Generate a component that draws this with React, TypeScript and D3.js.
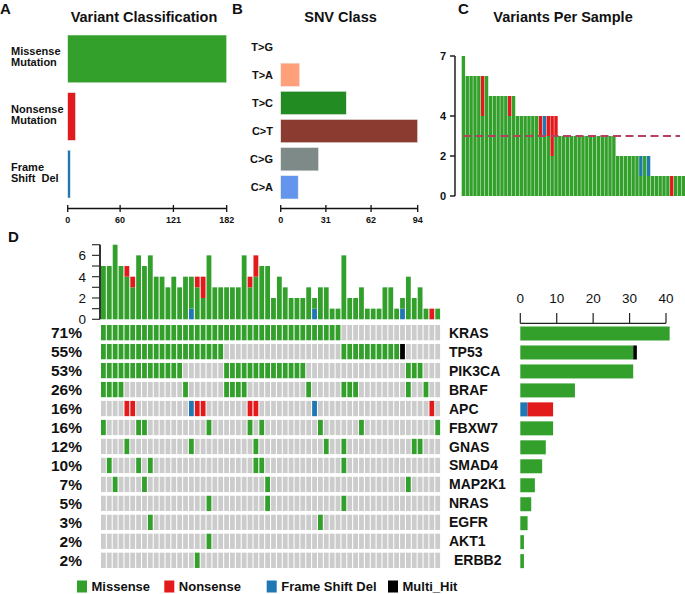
import React from "react";
import * as d3 from "d3";

const FONT = "'Liberation Sans', Arial, Helvetica, sans-serif";

// ---------- Panel A ----------
const variantClasses = ["Missense Mutation", "Nonsense Mutation", "Frame Shift Del"];
const variantLabelLines = [["Missense", "Mutation"], ["Nonsense", "Mutation"], ["Frame", "Shift  Del"]];
const variantCounts = [182, 9, 3];
const variantTicks = [0, 60, 121, 182];

// ---------- Panel B ----------
const snvClasses = ["T>G", "T>A", "T>C", "C>T", "C>G", "C>A"];
const snvCounts = [0, 13, 45, 94, 26, 12];
const snvColors = ["#FFFF99", "#FFA07A", "#228B22", "#8B3B2F", "#7E8A87", "#6495ED"];
const snvTicks = [0, 31, 62, 94];

// ---------- Panel C (samples sorted by variant count) ----------
const cMissense = [
  7, 6, 6, 6, 6, 4, 6, 5, 5, 5,
  5, 5, 4, 5, 4, 4, 4, 4, 4, 4,
  3, 3, 3, 2, 3, 3, 3, 3, 3, 3,
  3, 3, 3, 3, 3, 3, 3, 3, 3, 3,
  2, 2, 2, 2, 2, 2, 1, 2, 1, 1,
  1, 1, 1, 1, 0, 1, 1, 1,
];
const cNonsense = [
  0, 0, 0, 0, 0, 2, 0, 0, 0, 0,
  0, 0, 1, 0, 0, 0, 0, 0, 0, 0,
  1, 0, 1, 2, 1, 0, 0, 0, 0, 0,
  0, 0, 0, 0, 0, 0, 0, 0, 0, 0,
  0, 0, 0, 0, 0, 0, 0, 0, 0, 0,
  0, 0, 0, 0, 1, 0, 0, 0,
];
const cFrameShift = [
  0, 0, 0, 0, 0, 0, 0, 0, 0, 0,
  0, 0, 0, 0, 0, 0, 0, 0, 0, 0,
  0, 1, 0, 0, 0, 0, 0, 0, 0, 0,
  0, 0, 0, 0, 0, 0, 0, 0, 0, 0,
  0, 0, 0, 0, 0, 0, 1, 0, 1, 0,
  0, 0, 0, 0, 0, 0, 0, 0,
];
const cTicks = [0, 2, 4, 7];
const cMedian = 3;

// ---------- Panel D ----------
const genes = ["KRAS", "TP53", "PIK3CA", "BRAF", "APC", "FBXW7", "GNAS", "SMAD4", "MAP2K1", "NRAS", "EGFR", "AKT1", "ERBB2"];
const genePercents = ["71%", "55%", "53%", "26%", "16%", "16%", "12%", "10%", "7%", "5%", "3%", "2%", "2%"];
// M = Missense, N = Nonsense, F = Frame Shift Del, H = Multi_Hit, . = none
const geneRows = [
  ["MMMMMMMMMM", "MMMMMMMMMM", "MMMMMMMMMM", "MMMMMMMMMM", "M.........", "........"],
  ["MMMMMMMMMM", "MMMMMMMMMM", "M.........", "..........", ".MMMMMMMMM", "MH......"],
  ["MMMMMMMMMM", "MMMM......", ".MMMMMMMMM", "MMMMM.....", "..........", "..MMM..."],
  ["MMMM......", "....M.....", ".MMMM.....", ".....M....", ".MMM......", "..M..M.."],
  ["....NN....", ".....FNN..", ".....NN...", "......F...", "..........", "......N."],
  ["M.....MM..", "........M.", ".....M.M..", ".......M..", "....M.....", ".......M"],
  ["....M.....", ".....M....", "......M...", "........M.", ".M........", "...MM..."],
  [".M....M.M.", "..........", "......MM..", "..........", ".M........", "........"],
  ["..M....M..", "..........", "........M.", "..........", "..........", "..M....."],
  ["..........", "........M.", "........M.", "..........", ".M........", "........"],
  ["........M.", "..........", "..........", ".......M..", "..........", "........"],
  ["..........", "........M.", "..........", "..........", "..........", "........"],
  ["..........", "......M...", "..........", "..........", "..........", "........"],
].map((chunks) => chunks.join(""));

const tmbMissense = [
  5, 5, 7, 5, 4, 3, 6, 5, 6, 4,
  4, 3, 4, 3, 4, 3, 3, 2, 6, 3,
  3, 3, 3, 3, 6, 3, 4, 5, 5, 2,
  4, 3, 2, 2, 2, 3, 1, 3, 3, 1,
  1, 6, 2, 2, 3, 1, 1, 1, 3, 3,
  1, 1, 4, 2, 3, 1, 0, 1,
];
const tmbNonsense = [
  0, 0, 0, 0, 1, 1, 0, 0, 0, 0,
  0, 0, 0, 0, 0, 0, 1, 2, 0, 0,
  0, 0, 0, 0, 0, 1, 2, 0, 0, 0,
  0, 0, 0, 0, 0, 0, 0, 0, 0, 0,
  0, 0, 0, 0, 0, 0, 0, 0, 0, 0,
  0, 0, 0, 0, 0, 0, 1, 0,
];
const tmbFrameShift = [
  0, 0, 0, 0, 0, 0, 0, 0, 0, 0,
  0, 0, 0, 0, 0, 1, 0, 0, 0, 0,
  0, 0, 0, 0, 0, 0, 0, 0, 0, 0,
  0, 0, 0, 0, 0, 0, 1, 0, 0, 0,
  0, 0, 0, 0, 0, 0, 0, 0, 0, 0,
  0, 1, 0, 0, 0, 0, 0, 0,
];
const tmbTicks = [0, 1, 2, 3, 4, 5, 6, 7];
const tmbLabels = [0, 2, 4, 6];
const geneTicks = [0, 10, 20, 30, 40];
const legendItems = ["Missense", "Nonsense", "Frame Shift Del", "Multi_Hit"];

const COLORS: Record<string, string> = {
  M: "#33A02C",
  N: "#E31A1C",
  F: "#1F78B4",
  H: "#000000",
};
const GRAY = "#CCCCCC";
const legendCodes = ["M", "N", "F", "H"];

export default function App() {
  // ----- Panel A scales -----
  const ax = d3.scaleLinear().domain([0, 182]).range([67.7, 226.7]);
  const ay = d3.scaleBand<string>().domain(variantClasses).range([35, 198]).paddingInner(0.17);
  const aColors = [COLORS.M, COLORS.N, COLORS.F];

  // ----- Panel B scales -----
  const bx = d3.scaleLinear().domain([0, 94]).range([280.7, 417.7]);
  const by = d3.scaleBand<string>().domain(snvClasses).range([35, 199]).paddingInner(0.17);

  // ----- Panel C scales -----
  const cIdx = d3.range(cMissense.length);
  const cx = d3.scaleBand<number>().domain(cIdx).range([461.7, 685]).paddingInner(0.12);
  const cy = d3.scaleLinear().domain([0, 7]).range([196, 56]);

  // ----- Panel D scales -----
  const nS = tmbMissense.length;
  const sIdx = d3.range(nS);
  const dx = d3.scaleBand<number>().domain(sIdx).range([101, 440.1]).paddingInner(0.18);
  const dy = d3.scaleLinear().domain([0, 7]).range([319.3, 244.7]);
  const rowY = d3.scaleLinear().domain([0, 1]).range([325, 343.97]);
  const rowH = 15.3;
  const gx = d3.scaleLinear().domain([0, 40]).range([520.3, 666]);

  const stackOrderGene = ["F", "M", "N", "H"];

  return (
    <svg
      width={685}
      height={594}
      style={{ position: "absolute", left: 0, top: 0, background: "#fff", fontFamily: FONT }}
    >
      {/* Panel letters and titles */}
      <g fontWeight="bold" fill="#111">
        <text x={0} y={14} fontSize={15}>A</text>
        <text x={232} y={14} fontSize={15}>B</text>
        <text x={458} y={14} fontSize={15}>C</text>
        <text x={8} y={242} fontSize={15}>D</text>
        <text x={144} y={21.5} fontSize={14.5} textAnchor="middle">Variant Classification</text>
        <text x={340.5} y={21.5} fontSize={14.5} textAnchor="middle">SNV Class</text>
        <text x={563} y={21.5} fontSize={14.5} textAnchor="middle">Variants Per Sample</text>
      </g>

      {/* Panel A */}
      <g>
        {variantClasses.map((c, i) => (
          <rect
            key={c}
            x={ax(0)}
            y={ay(c)!}
            width={ax(variantCounts[i]) - ax(0)}
            height={ay.bandwidth()}
            fill={aColors[i]}
            stroke="#e8f0e8"
            strokeWidth={0.6}
          />
        ))}
        {variantClasses.map((c, i) => {
          const cyy = ay(c)! + ay.bandwidth() / 2;
          return (
            <text key={c} x={11} fontSize={11} fontWeight="bold" fill="#111" style={{ whiteSpace: "pre" }}>
              <tspan x={11} y={cyy - 3.5}>{variantLabelLines[i][0]}</tspan>
              <tspan x={11} y={cyy + 7.5}>{variantLabelLines[i][1]}</tspan>
            </text>
          );
        })}
        <line x1={ax(0)} x2={ax(182)} y1={208.5} y2={208.5} stroke="#111" strokeWidth={1.3} />
        {variantTicks.map((t) => (
          <g key={t}>
            <line x1={ax(t)} x2={ax(t)} y1={205} y2={212} stroke="#111" strokeWidth={1.3} />
            <text x={ax(t)} y={223} fontSize={9} fontWeight="bold" textAnchor="middle" fill="#111">{t}</text>
          </g>
        ))}
      </g>

      {/* Panel B */}
      <g>
        {snvClasses.map((c, i) => (
          <g key={c}>
            {snvCounts[i] > 0 && (
              <rect
                x={bx(0)}
                y={by(c)!}
                width={bx(snvCounts[i]) - bx(0)}
                height={by.bandwidth()}
                fill={snvColors[i]}
                stroke="#eeeeee"
                strokeWidth={0.6}
              />
            )}
            <text
              x={273}
              y={by(c)! + by.bandwidth() / 2}
              dy="0.36em"
              fontSize={11}
              fontWeight="bold"
              textAnchor="end"
              fill="#111"
            >
              {c}
            </text>
          </g>
        ))}
        <line x1={bx(0)} x2={bx(94)} y1={208.5} y2={208.5} stroke="#111" strokeWidth={1.3} />
        {snvTicks.map((t) => (
          <g key={t}>
            <line x1={bx(t)} x2={bx(t)} y1={205} y2={212} stroke="#111" strokeWidth={1.3} />
            <text x={bx(t)} y={223} fontSize={9} fontWeight="bold" textAnchor="middle" fill="#111">{t}</text>
          </g>
        ))}
      </g>

      {/* Panel C */}
      <g>
        {cIdx.map((k) => {
          const m = cMissense[k];
          const n = cNonsense[k];
          const f = cFrameShift[k];
          const segs: [number, number, string][] = [];
          let base = 0;
          if (m > 0) { segs.push([base, base + m, COLORS.M]); base += m; }
          if (n > 0) { segs.push([base, base + n, COLORS.N]); base += n; }
          if (f > 0) { segs.push([base, base + f, COLORS.F]); base += f; }
          return segs.map(([a, b, col], j) => (
            <rect
              key={`${k}-${j}`}
              x={cx(k)!}
              y={cy(b)}
              width={cx.bandwidth()}
              height={cy(a) - cy(b)}
              fill={col}
            />
          ));
        })}
        <line
          x1={463}
          x2={680}
          y1={cy(cMedian)}
          y2={cy(cMedian)}
          stroke="#B8405F"
          strokeWidth={2}
          strokeDasharray="8,4.5"
        />
        <line x1={455} x2={455} y1={cy(0)} y2={cy(7)} stroke="#111" strokeWidth={1.4} />
        {cTicks.map((t) => (
          <g key={t}>
            <line x1={450} x2={455} y1={cy(t)} y2={cy(t)} stroke="#111" strokeWidth={1.4} />
            <text x={446} y={cy(t)} dy="0.36em" fontSize={11} fontWeight="bold" textAnchor="end" fill="#111">{t}</text>
          </g>
        ))}
      </g>

      {/* Panel D - top TMB bars */}
      <g>
        {sIdx.map((i) => {
          const segs: [number, number, string][] = [];
          let base = 0;
          if (tmbFrameShift[i] > 0) { segs.push([base, base + tmbFrameShift[i], COLORS.F]); base += tmbFrameShift[i]; }
          if (tmbMissense[i] > 0) { segs.push([base, base + tmbMissense[i], COLORS.M]); base += tmbMissense[i]; }
          if (tmbNonsense[i] > 0) { segs.push([base, base + tmbNonsense[i], COLORS.N]); base += tmbNonsense[i]; }
          return segs.map(([a, b, col], j) => (
            <rect
              key={`${i}-${j}`}
              x={dx(i)!}
              y={dy(b)}
              width={dx.bandwidth()}
              height={dy(a) - dy(b)}
              fill={col}
            />
          ));
        })}
        <line x1={100} x2={100} y1={dy(0)} y2={dy(7)} stroke="#333" strokeWidth={2} />
        {tmbTicks.map((t) => (
          <line key={t} x1={92} x2={100} y1={dy(t)} y2={dy(t)} stroke="#333" strokeWidth={1.2} />
        ))}
        {tmbLabels.map((t) => (
          <text key={t} x={86} y={dy(t)} dy="0.36em" fontSize={13.5} textAnchor="end" fill="#111">{t}</text>
        ))}
      </g>

      {/* Panel D - oncoplot grid */}
      <g>
        {genes.map((g, r) => (
          <g key={g}>
            {sIdx.map((i) => {
              const code = geneRows[r][i];
              return (
                <rect
                  key={i}
                  x={dx(i)!}
                  y={rowY(r)}
                  width={dx.bandwidth()}
                  height={rowH}
                  fill={code === "." ? GRAY : COLORS[code]}
                />
              );
            })}
            <text
              x={82}
              y={rowY(r) + rowH / 2}
              dy="0.36em"
              fontSize={15.5}
              fontWeight="bold"
              textAnchor="end"
              fill="#111"
            >
              {genePercents[r]}
            </text>
            <text
              x={r === genes.length - 1 ? 454 : 449}
              y={rowY(r) + rowH / 2}
              dy="0.36em"
              fontSize={14}
              fontWeight="bold"
              fill="#111"
            >
              {g}
            </text>
          </g>
        ))}
      </g>

      {/* Panel D - right gene bar chart */}
      <g>
        {genes.map((g, r) => {
          const row = geneRows[r];
          let base = 0;
          return stackOrderGene.map((code) => {
            const cnt = row.split("").filter((ch) => ch === code).length;
            if (cnt === 0) return null;
            const x0 = gx(base);
            base += cnt;
            return (
              <rect
                key={`${g}-${code}`}
                x={x0}
                y={rowY(r) + 1.5}
                width={gx(base) - x0}
                height={14}
                fill={COLORS[code]}
              />
            );
          });
        })}
        <line x1={gx(0)} x2={gx(40)} y1={323.3} y2={323.3} stroke="#222" strokeWidth={1.2} />
        {geneTicks.map((t) => (
          <g key={t}>
            <line x1={gx(t)} x2={gx(t)} y1={313} y2={323.3} stroke="#222" strokeWidth={1.2} />
            <text x={gx(t)} y={302.5} fontSize={13.5} textAnchor="middle" fill="#111">{t}</text>
          </g>
        ))}
      </g>

      {/* Legend */}
      <g>
        {legendItems.map((name, i) => {
          const sx = [77, 164.3, 266.7, 388][i];
          return (
            <g key={name}>
              <rect x={sx} y={580.5} width={10} height={12} fill={COLORS[legendCodes[i]]} />
              <text x={sx + 14.5} y={591} fontSize={13} fontWeight="bold" fill="#111">{name}</text>
            </g>
          );
        })}
      </g>
    </svg>
  );
}
